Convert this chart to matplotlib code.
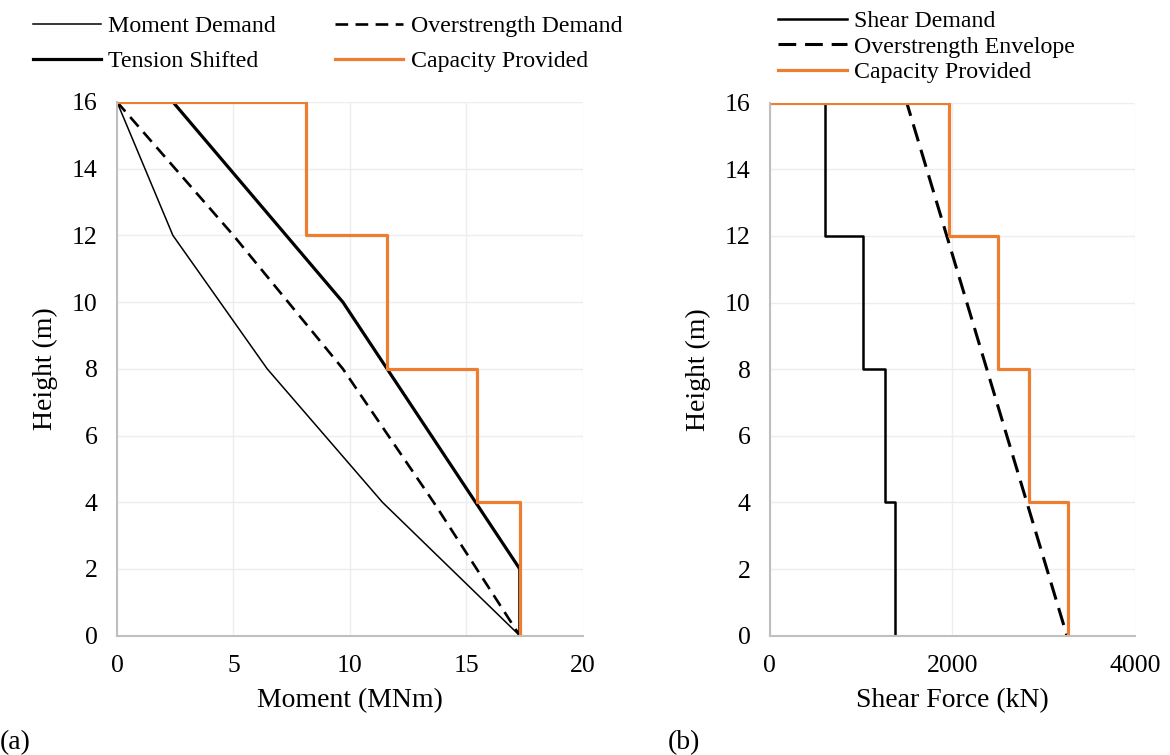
import matplotlib
matplotlib.use("Agg")
import matplotlib.pyplot as plt

plt.rcParams['font.family'] = ['Liberation Serif', 'DejaVu Serif']

ORANGE = '#ED7D31'
GRID = '#EDEDED'
SPINE = '#BFBFBF'

# (a) moment profiles, height in m
md_x = [0, 2.4, 6.45, 11.4, 17.3]
md_y = [16, 12, 8, 4, 0]
od_x = [0, 5.0, 9.7, 13.6, 17.3]
od_y = [16, 12, 8, 4, 0]
ts_x = [0, 2.4, 9.7, 17.3, 17.3]
ts_y = [16, 16, 10, 2, 0]
cap_m_x = [0, 8.1, 8.1, 11.6, 11.6, 15.45, 15.45, 17.3, 17.3]
cap_m_y = [16, 16, 12, 12, 8, 8, 4, 4, 0]

# (b) shear profiles
sd_x = [0, 600, 600, 1025, 1025, 1260, 1260, 1375, 1375]
sd_y = [16, 16, 12, 12, 8, 8, 4, 4, 0]
oe_x = [0, 1500, 3255]
oe_y = [16, 16, 0]
cap_v_x = [0, 1960, 1960, 2495, 2495, 2845, 2845, 3265, 3265]
cap_v_y = [16, 16, 12, 12, 8, 8, 4, 4, 0]


def style_axes(ax, xmax, xstep):
    ax.set_xlim(0, xmax)
    ax.set_ylim(0, 16)
    ax.set_xticks(range(0, xmax + 1, xstep))
    ax.set_yticks(range(0, 17, 2))
    ax.grid(True, color=GRID, linewidth=1.0)
    ax.set_axisbelow(True)
    for s in ['top', 'right']:
        ax.spines[s].set_visible(False)
    for s in ['left', 'bottom']:
        ax.spines[s].set_color(SPINE)
        ax.spines[s].set_linewidth(1.5)
    ax.tick_params(length=0, labelsize=18.5, pad=14)
    ax.set_ylabel('Height (m)', fontsize=20, labelpad=10)


fig = plt.figure(figsize=(11.7, 7.55), dpi=100)
ax1 = fig.add_axes([0.1, 0.158, 0.398, 0.707])
ax2 = fig.add_axes([0.658, 0.158, 0.312, 0.706])

# (a)
l_md, = ax1.plot(md_x, md_y, color='black', lw=1.1)
l_od, = ax1.plot(od_x, od_y, color='black', lw=1.9, dashes=(4.8, 2.8))
l_ts, = ax1.plot(ts_x, ts_y, color='black', lw=2.3)
l_cm, = ax1.plot(cap_m_x, cap_m_y, color=ORANGE, lw=2.3)
style_axes(ax1, 20, 5)
ax1.set_xlabel('Moment (MNm)', fontsize=20, labelpad=8)

# (b)
l_sd, = ax2.plot(sd_x, sd_y, color='black', lw=1.8)
l_oe, = ax2.plot(oe_x, oe_y, color='black', lw=2.2, dashes=(5.8, 2.9))
l_cv, = ax2.plot(cap_v_x, cap_v_y, color=ORANGE, lw=2.3)
style_axes(ax2, 4000, 2000)
ax2.set_xlabel('Shear Force (kN)', fontsize=20, labelpad=8)

fig.legend([l_md, l_ts, l_od, l_cv], ['Moment Demand', 'Tension Shifted',
           'Overstrength Demand', 'Capacity Provided'],
           ncol=2, loc='upper left', bbox_to_anchor=(0.0095, 1.008),
           frameon=False, fontsize=17.2, handlelength=2.85, handletextpad=0.3,
           columnspacing=2.5, labelspacing=0.55)
fig.legend([l_sd, l_oe, l_cv], ['Shear Demand', 'Overstrength Envelope',
           'Capacity Provided'],
           ncol=1, loc='upper left', bbox_to_anchor=(0.647, 1.015),
           frameon=False, fontsize=17.2, handlelength=2.85, handletextpad=0.3,
           labelspacing=0.17)

fig.text(0.0, 0.008, '(a)', fontsize=20)
fig.text(0.571, 0.008, '(b)', fontsize=20)

fig.savefig('out.png', dpi=100)
